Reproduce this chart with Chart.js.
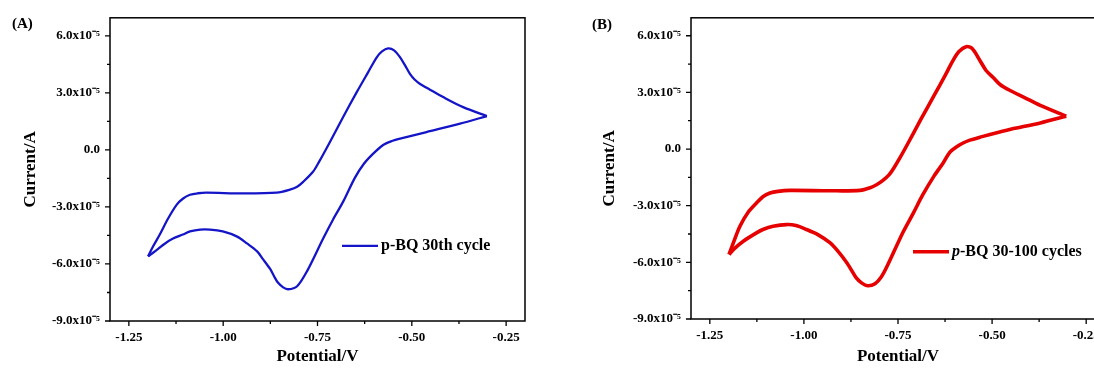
<!DOCTYPE html>
<html>
<head>
<meta charset="utf-8">
<script src="https://cdn.jsdelivr.net/npm/chart.js@4"></script>
<style>
  html, body { margin: 0; padding: 0; background: #fff; width: 1094px; height: 372px; overflow: hidden; }
  .panel { position: absolute; top: 0; }
  #cvA { left: 0; }
  #cvB { left: 581px; }
</style>
</head>
<body>
<canvas id="cvA" class="panel" width="540" height="372"></canvas>
<canvas id="cvB" class="panel" width="540" height="372"></canvas>
<script>
// Potential (V) and current (in units of 1e-5 A).
// Each loop starts at the -1.2 V vertex, sweeps anodic to -0.3 V, then comes back.
const potentialA = [-1.199, -1.186, -1.168, -1.146, -1.123, -1.107, -1.088, -1.067, -1.044, -0.947,
  -0.858, -0.823, -0.804, -0.788, -0.762, -0.746, -0.717, -0.682, -0.646, -0.616,
  -0.593, -0.579, -0.563, -0.547, -0.531, -0.518, -0.505, -0.492, -0.478, -0.452,
  -0.417, -0.364, -0.301,
  -0.372, -0.461, -0.531, -0.555, -0.576, -0.603, -0.627, -0.651, -0.682, -0.709,
  -0.735, -0.778, -0.804, -0.828, -0.841, -0.855, -0.865, -0.876, -0.894, -0.910, -0.937, -0.963,
  -1.001, -1.035, -1.061, -1.088, -1.107, -1.133, -1.154, -1.181, -1.199];
const currentA = [-5.60, -5.08, -4.45, -3.61, -2.88, -2.57, -2.36, -2.28, -2.25, -2.29,
  -2.25, -2.09, -1.94, -1.68, -1.15, -0.63, 0.42, 1.73, 3.04, 4.08,
  4.87, 5.18, 5.34, 5.24, 4.87, 4.45, 4.00, 3.69, 3.47, 3.17,
  2.78, 2.25, 1.78,
  1.38, 0.94, 0.59, 0.45, 0.26, -0.21, -0.73, -1.47, -2.72, -3.67,
  -4.66, -6.39, -7.17, -7.33, -7.23, -6.98, -6.65, -6.25, -5.76, -5.34, -4.92, -4.56,
  -4.29, -4.19, -4.19, -4.29, -4.45, -4.66, -4.92, -5.34, -5.60];

const potentialB = [-1.199, -1.185, -1.170, -1.149, -1.126, -1.109, -1.090, -1.069, -1.037, -0.931,
  -0.851, -0.824, -0.807, -0.790, -0.774, -0.761, -0.745, -0.723, -0.689, -0.654, -0.625,
  -0.604, -0.588, -0.569, -0.553, -0.532, -0.516, -0.497, -0.479, -0.452, -0.415,
  -0.372, -0.303,
  -0.372, -0.461, -0.532, -0.559, -0.577, -0.594, -0.612, -0.630, -0.654, -0.684,
  -0.710, -0.737, -0.779, -0.795, -0.811, -0.830, -0.846, -0.862, -0.875, -0.886, -0.907, -0.931,
  -0.963, -0.993, -1.021, -1.046, -1.082, -1.109, -1.126, -1.161, -1.184, -1.199];
const currentB = [-5.58, -4.84, -4.09, -3.37, -2.86, -2.53, -2.33, -2.24, -2.19, -2.21,
  -2.19, -2.05, -1.89, -1.66, -1.37, -1.00, -0.47, 0.32, 1.58, 2.84, 3.89,
  4.68, 5.16, 5.42, 5.32, 4.68, 4.16, 3.79, 3.42, 3.10, 2.74,
  2.31, 1.74,
  1.38, 1.00, 0.63, 0.47, 0.32, 0.12, -0.16, -0.74, -1.42, -2.42,
  -3.42, -4.42, -6.21, -6.79, -7.13, -7.24, -7.10, -6.79, -6.37, -6.02, -5.47, -4.96,
  -4.53, -4.26, -4.05, -4.00, -4.09, -4.26, -4.44, -4.88, -5.26, -5.58];

const xTicks = [-1.25, -1.00, -0.75, -0.50, -0.25];
const xTickLabels = ['-1.25', '-1.00', '-0.75', '-0.50', '-0.25'];
const yTicks = [-9, -6, -3, 0, 3, 6];
const yTickLabels = ['-9.0x10⁻⁵', '-6.0x10⁻⁵', '-3.0x10⁻⁵', '0.0', '3.0x10⁻⁵', '6.0x10⁻⁵'];

const FONT = 'Liberation Serif';
Chart.defaults.font.family = FONT;
Chart.defaults.color = '#000';

function midpoints(arr) {
  const out = [];
  for (let i = 0; i < arr.length - 1; i++) out.push((arr[i] + arr[i + 1]) / 2);
  return out;
}

// frame, major/minor ticks, panel letter and the in-plot legend
const decor = {
  id: 'decor',
  afterDatasetsDraw(chart, args, opts) {
    const ctx = chart.ctx, a = chart.chartArea;
    const xs = chart.scales.x, ys = chart.scales.y;
    ctx.save();
    ctx.strokeStyle = '#000';
    ctx.lineWidth = 1.3;
    ctx.beginPath();
    xTicks.forEach(v => { const p = xs.getPixelForValue(v); ctx.moveTo(p, a.bottom); ctx.lineTo(p, a.bottom + 5); });
    midpoints(xTicks).forEach(v => { const p = xs.getPixelForValue(v); ctx.moveTo(p, a.bottom); ctx.lineTo(p, a.bottom + 3); });
    yTicks.forEach(v => { const p = ys.getPixelForValue(v); ctx.moveTo(a.left, p); ctx.lineTo(a.left - 5, p); });
    midpoints(yTicks).forEach(v => { const p = ys.getPixelForValue(v); ctx.moveTo(a.left, p); ctx.lineTo(a.left - 3, p); });
    ctx.stroke();

    ctx.lineWidth = 1.5;
    ctx.strokeRect(a.left, a.top, a.right - a.left, a.bottom - a.top);

    ctx.fillStyle = '#000';
    ctx.textBaseline = 'middle';
    ctx.font = 'bold 15px ' + FONT;
    ctx.fillText(opts.panel, opts.panelX, opts.panelY);

    const lx = a.left + opts.legendX, ly = a.top + opts.legendY;
    ctx.strokeStyle = opts.color;
    ctx.lineWidth = opts.lineWidth;
    ctx.beginPath();
    ctx.moveTo(lx, ly);
    ctx.lineTo(lx + 36, ly);
    ctx.stroke();
    let tx = lx + 39;
    opts.legend.forEach(seg => {
      ctx.font = (seg.italic ? 'italic ' : '') + 'bold 16px ' + FONT;
      ctx.fillText(seg.text, tx, ly);
      tx += ctx.measureText(seg.text).width;
    });
    ctx.restore();
  }
};

function makeChart(id, potential, current, cfg) {
  const points = potential.map((v, i) => ({ x: v, y: current[i] }));
  // split at the -0.3 V switching vertex so both sweeps keep a sharp tip
  const turn = potential.indexOf(Math.max(...potential));
  const sweep = data => ({
    data: data,
    showLine: true,
    borderColor: cfg.color,
    borderWidth: cfg.lineWidth,
    pointRadius: 0,
    tension: 0.3,
    fill: false
  });
  return new Chart(document.getElementById(id), {
    type: 'scatter',
    data: { datasets: [sweep(points.slice(0, turn + 1)), sweep(points.slice(turn))] },
    plugins: [decor],
    options: {
      responsive: false,
      animation: false,
      devicePixelRatio: 1,
      layout: { padding: { top: cfg.top, right: cfg.right, left: 0, bottom: 0 } },
      plugins: {
        legend: { display: false },
        tooltip: { enabled: false },
        decor: cfg
      },
      scales: {
        x: {
          type: 'linear',
          min: -1.30,
          max: -0.20,
          grid: { display: false, drawTicks: false },
          border: { display: false },
          afterBuildTicks: s => { s.ticks = xTicks.map(v => ({ value: v })); },
          afterFit: s => { s.height = cfg.xHeight; },
          ticks: {
            autoSkip: false,
            maxRotation: 0,
            padding: 9,
            font: { size: 13, weight: 'bold' },
            callback: (v, i) => xTickLabels[i]
          },
          title: {
            display: true,
            text: 'Potential/V',
            font: { size: 17, weight: 'bold' },
            padding: { top: 0, bottom: 5 }
          }
        },
        y: {
          type: 'linear',
          min: -9,
          max: 6.95,
          grid: { display: false, drawTicks: false },
          border: { display: false },
          afterBuildTicks: s => { s.ticks = yTicks.map(v => ({ value: v })); },
          afterFit: s => { s.width = 110; },
          ticks: {
            autoSkip: false,
            padding: 10,
            font: { size: 13, weight: 'bold' },
            callback: (v, i) => yTickLabels[i]
          },
          title: {
            display: true,
            text: 'Current/A',
            font: { size: 17, weight: 'bold' },
            padding: { top: cfg.yTitlePad, bottom: 0 }
          }
        }
      }
    }
  });
}

makeChart('cvA', potentialA, currentA, {
  color: '#1515c8', lineWidth: 2.3, top: 15, right: 15, xHeight: 51, yTitlePad: 20,
  panel: '(A)', panelX: 12, panelY: 24, legendX: 232, legendY: 228,
  legend: [{ text: 'p-BQ 30th cycle' }]
});

makeChart('cvB', potentialB, currentB, {
  color: '#e60000', lineWidth: 3.6, top: 16, right: 16, xHeight: 53, yTitlePad: 18,
  panel: '(B)', panelX: 11, panelY: 25, legendX: 222, legendY: 234,
  legend: [{ text: 'p', italic: true }, { text: '-BQ 30-100 cycles' }]
});
</script>
</body>
</html>
